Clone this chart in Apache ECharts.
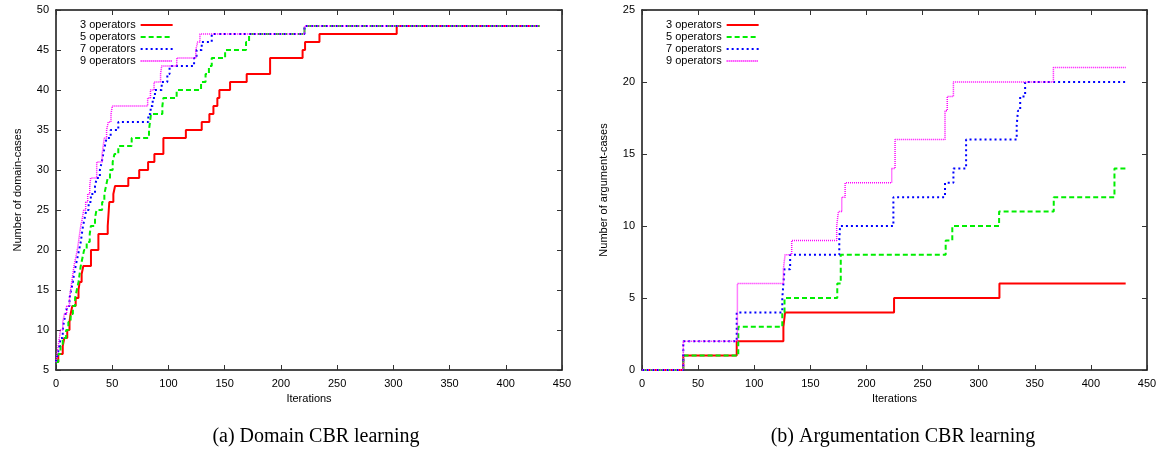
<!DOCTYPE html>
<html>
<head>
<meta charset="utf-8">
<script src="https://cdn.jsdelivr.net/npm/echarts@6/dist/echarts.min.js"></script>
<style>
html,body{margin:0;padding:0;background:#fff;}
#chart{width:1163px;height:452px;}
</style>
</head>
<body>
<div id="chart"></div>
<script>
// ---- Data: [iteration, cumulative cases], value changes at the given iteration ----
const seriesNames = ['3 operators', '5 operators', '7 operators', '9 operators'];
const xTicks = [0, 50, 100, 150, 200, 250, 300, 350, 400, 450];

const domain3 = [[0,6],[2,7],[6,8],[7.4,9],[10,10],[12,11],[13,12],[14.5,13],[17.5,14],[20,15],[21,16],[22.8,17],[24.3,18],[31.1,20],[37.7,22],[46,23],[47.4,26],[51,27],[52.5,28],[64.3,29],[74,30],[81.9,31],[87.5,32],[95.5,34],[115.5,35],[129.6,36],[136.4,37],[140,38],[143.5,39],[145.3,40],[154.8,41],[169.6,42],[190.4,44],[219.3,45],[221.5,46],[234.3,47],[303,48],[430,48]];
const domain5 = [[0,6],[2,7],[4,8],[6,9],[9,10],[11,11],[13,12],[15,13],[17,14],[18.5,15],[20,16],[21,17],[22,18],[23.5,19],[25,20],[27.3,21],[30,22],[31,23],[34.7,24],[36,25],[41,26],[43,27],[44.5,28],[46,29],[48,30],[50.4,31],[52,32],[55.4,33],[67.3,34],[82.7,35],[83.6,36],[84.5,37],[94.6,38],[95.5,39],[107.3,40],[129,41],[133,42],[136,43],[138.5,44],[150.4,45],[169,46],[171.7,47],[221,48],[430,48]];
const domain7 = [[0,6],[1.5,7],[3,8],[4,9],[6,10],[7,11],[8.5,12],[10,13],[12,14],[13.5,15],[15,16],[16,17],[17.5,18],[19,19],[20.5,20],[22,21],[23,22],[24,23],[25.5,24],[27,25],[29,26],[31,27],[34.7,28],[36.2,29],[39,30],[40.7,31],[42,32],[43.5,33],[45,34],[48.6,35],[55.4,36],[82.1,37],[84.2,38],[86,39],[88,40],[94,41],[99,42],[101,43],[122.8,44],[125,45],[129.6,46],[138.5,47],[221,48],[430,48]];
const domain9 = [[0,6],[1,7],[2,8],[3,9],[4,10],[6,11],[7.5,12],[9.5,13],[12,14],[13,15],[14,16],[15,17],[16,18],[17.5,19],[19,20],[20,21],[21,22],[22,23],[23.5,24],[24.6,25],[26.4,26],[28.2,27],[30,28],[30.8,29],[36.2,31],[41,32],[42,33],[43,34],[45,35],[46.5,36],[48.9,37],[50.1,38],[81.5,39],[84,40],[87.2,41],[93,42],[94,43],[107.4,44],[124.3,45],[126,46],[128,47],[221,48],[430,48]];

const arg3 = [[0,0],[36.8,1],[84.4,2],[126,3],[127.5,4],[224.6,5],[318.5,6],[431,6]];
const arg5 = [[0,0],[36.8,1],[85.8,3],[125,4],[127,5],[174,6],[177.1,8],[270.6,9],[276.5,10],[318.2,11],[366.9,12],[421,14],[431,14]];
const arg7 = [[0,0],[36.8,2],[84.4,4],[125,5],[126,6],[127,7],[132,8],[175.8,9],[176.5,10],[224,12],[270,13],[277.5,14],[288.8,16],[333.9,17],[335,18],[337,19],[341.4,20],[431,20]];
const arg9 = [[0,0],[36.8,2],[85,6],[126,7],[127.5,8],[133.4,9],[173.5,10],[175,11],[178,12],[181,13],[222.5,14],[225.5,16],[270,18],[272,19],[277.5,20],[366.6,21],[431,21]];

const captions = ['(a) Domain CBR learning', '(b) Argumentation CBR learning'];
const yNames = ['Number of domain-cases', 'Number of argument-cases'];

// ---- Styling ----
const FONT = 'Liberation Sans';
const styles = [
  {color: '#ff0000', width: 2, type: 'solid'},
  {color: '#00ee00', width: 2, type: [5, 3]},
  {color: '#0000ff', width: 2, type: [2, 3]},
  {color: '#ff00ff', width: 1.5, type: [1, 1]}
];

const axisLine = {show: true, onZero: false, lineStyle: {color: '#111', width: 1.5}};
const axisTick = {show: true, inside: true, length: 5, lineStyle: {color: '#333', width: 1}};
const label = {color: '#000', fontFamily: FONT, fontSize: 11};

function xAx(grid, pos, showLabel) {
  return {
    type: 'value', gridIndex: grid, position: pos, min: 0, max: 450, interval: 50,
    axisLine, axisTick, splitLine: {show: false},
    axisLabel: Object.assign({show: showLabel, margin: 8}, label),
    name: showLabel ? 'Iterations' : '', nameLocation: 'middle', nameGap: 22,
    nameTextStyle: {color: '#000', fontFamily: FONT, fontSize: 11}
  };
}
function yAx(grid, pos, showLabel, min, max, name) {
  return {
    type: 'value', gridIndex: grid, position: pos, min, max, interval: 5,
    axisLine, axisTick, splitLine: {show: false},
    axisLabel: Object.assign({show: showLabel, margin: 7}, label),
    name: showLabel ? name : '', nameLocation: 'middle', nameGap: 33, nameRotate: 90,
    nameTextStyle: {color: '#000', fontFamily: FONT, fontSize: 11}
  };
}

const datasets = [[domain3, domain5, domain7, domain9], [arg3, arg5, arg7, arg9]];
const series = [];
datasets.forEach((group, g) => {
  group.forEach((d, i) => {
    series.push({
      name: seriesNames[i], type: 'line', step: 'end',
      xAxisIndex: g * 2, yAxisIndex: g * 2,
      data: d, symbol: 'none', showSymbol: false, animation: false,
      lineStyle: styles[i], itemStyle: {color: styles[i].color},
      z: 2 + i
    });
  });
});

const legendBase = {
  orient: 'vertical', align: 'right', itemWidth: 32, itemHeight: 8, itemGap: 0,
  top: 14, selectedMode: false, data: seriesNames,
  itemStyle: {color: 'rgba(0,0,0,0)', borderWidth: 0, opacity: 0},
  textStyle: {color: '#000', fontFamily: FONT, fontSize: 11, lineHeight: 12}
};

const option = {
  backgroundColor: '#fff',
  animation: false,
  grid: [
    {left: 56, right: 601, top: 10, bottom: 82, containLabel: false},
    {left: 642, right: 16, top: 10, bottom: 82, containLabel: false}
  ],
  xAxis: [xAx(0, 'bottom', true), xAx(0, 'top', false), xAx(1, 'bottom', true), xAx(1, 'top', false)],
  yAxis: [yAx(0, 'left', true, 5, 50, yNames[0]), yAx(0, 'right', false, 5, 50, ''),
          yAx(1, 'left', true, 0, 25, yNames[1]), yAx(1, 'right', false, 0, 25, '')],
  legend: [
    Object.assign({left: 75}, legendBase),
    Object.assign({left: 661}, legendBase)
  ],
  graphic: [
    {type: 'text', x: 316, y: 437, style: {text: captions[0], font: '20px "Liberation Serif"', fill: '#000', align: 'center', verticalAlign: 'middle'}},
    {type: 'text', x: 903, y: 437, style: {text: captions[1], font: '20px "Liberation Serif"', fill: '#000', align: 'center', verticalAlign: 'middle'}}
  ],
  series
};

const chart = echarts.init(document.getElementById('chart'), null, {renderer: 'canvas'});
chart.setOption(option);
</script>
</body>
</html>
